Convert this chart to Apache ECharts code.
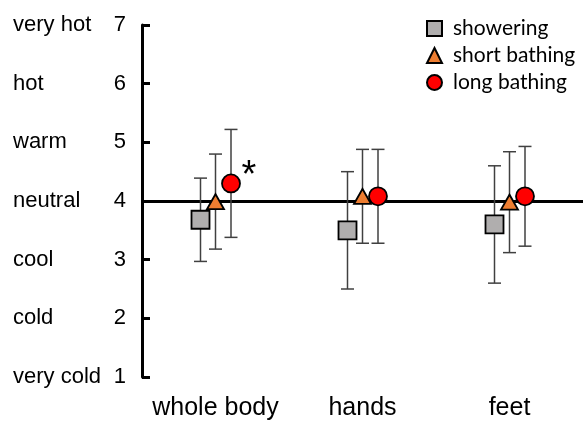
<!DOCTYPE html>
<html><head><meta charset="utf-8">
<script src="https://cdn.jsdelivr.net/npm/echarts@6/dist/echarts.min.js"></script>
<style>html,body{margin:0;padding:0;background:#fff}#c{width:583px;height:421px}</style>
</head><body><div id="c"></div>
<script>
var categories = ['whole body', 'hands', 'feet'];
var seriesNames = ['showering', 'short bathing', 'long bathing'];
var showerMean = [3.68, 3.50, 3.60];
var showerSD = [0.71, 1.00, 1.00];
var shortMean = [3.99, 4.08, 3.98];
var shortSD = [0.81, 0.80, 0.86];
var longMean = [4.30, 4.08, 4.08];
var longSD = [0.92, 0.80, 0.85];
var significance = ['*', '', ''];
var yTicks = [1, 2, 3, 4, 5, 6, 7];
var yWords = ['very cold', 'cold', 'cool', 'neutral', 'warm', 'hot', 'very hot'];
var referenceLevel = 4;

var chart = echarts.init(document.getElementById('c'));
var offsets = [-15, 0, 15.5];
var colors = ['#b0aeae', '#ed7d31', '#ff0000'];
var shapes = ['rect', 'triangle', 'circle'];
var sizes = [[18, 18], [17, 15], [18, 18]];
var means = [showerMean, shortMean, longMean];
var sds = [showerSD, shortSD, longSD];

function errSeries(k) {
  var data = categories.map(function (c, i) { return [i, means[k][i] - sds[k][i], means[k][i] + sds[k][i]]; });
  return {
    type: 'custom', name: seriesNames[k] + ' err', silent: true, z: 3,
    data: data,
    renderItem: function (params, api) {
      var lo = api.coord([api.value(0), api.value(1)]);
      var hi = api.coord([api.value(0), api.value(2)]);
      var x = lo[0] + offsets[k];
      var w = 6.5;
      var st = { stroke: '#404040', lineWidth: 1.5 };
      return { type: 'group', children: [
        { type: 'line', shape: { x1: x, y1: lo[1], x2: x, y2: hi[1] }, style: st },
        { type: 'line', shape: { x1: x - w, y1: lo[1], x2: x + w, y2: lo[1] }, style: st },
        { type: 'line', shape: { x1: x - w, y1: hi[1], x2: x + w, y2: hi[1] }, style: st }
      ] };
    }
  };
}

function pointSeries(k) {
  var s = {
    type: 'scatter', name: seriesNames[k], z: 5,
    symbol: shapes[k], symbolSize: sizes[k], symbolOffset: [offsets[k], 0],
    itemStyle: { color: colors[k], borderColor: '#000', borderWidth: 1.8, opacity: 1 },
    data: categories.map(function (c, i) {
      var d = { value: [i, means[k][i]] };
      if (k === 2 && significance[i]) {
        d.label = { show: true, formatter: significance[i], position: 'inside', offset: [18, -7],
          fontSize: 38, color: '#000', fontFamily: 'Liberation Sans' };
      }
      return d;
    })
  };
  if (k === 0) {
    s.markLine = { silent: true, symbol: 'none', z: 1, label: { show: false },
      lineStyle: { color: '#000', width: 3, type: 'solid' },
      data: [{ yAxis: referenceLevel }] };
  }
  return s;
}

var series = [errSeries(0), errSeries(1), errSeries(2), pointSeries(0), pointSeries(1), pointSeries(2)];

chart.setOption({
  animation: false,
  backgroundColor: '#fff',
  grid: { left: 142, right: -3, top: 25, bottom: 43, containLabel: false },
  legend: {
    orient: 'vertical', left: 421, top: 13, itemWidth: 15, itemHeight: 15, itemGap: 6,
    textStyle: { fontFamily: 'Lato', fontSize: 21, color: '#000', padding: [0, 0, 0, 6] },
    data: [
      { name: seriesNames[0], icon: 'rect' },
      { name: seriesNames[1], icon: 'triangle' },
      { name: seriesNames[2], icon: 'circle' }
    ],
    selectedMode: false
  },
  xAxis: {
    type: 'category', data: categories, boundaryGap: true,
    axisLine: { show: false }, axisTick: { show: false }, splitLine: { show: false },
    axisLabel: { interval: 0, fontSize: 25, color: '#000', fontFamily: 'Liberation Sans', margin: 19 }
  },
  yAxis: [
    {
      type: 'value', min: 1, max: 7, interval: 1,
      axisLine: { show: true, lineStyle: { color: '#000', width: 3 } },
      axisTick: { show: true, inside: true, length: 8, lineStyle: { color: '#000', width: 3 } },
      splitLine: { show: false },
      axisLabel: { fontSize: 22, color: '#000', fontFamily: 'Liberation Sans', margin: 16,
        formatter: function (v) { return yTicks.indexOf(v) >= 0 ? String(v) : ''; } }
    },
    {
      type: 'value', min: 1, max: 7, interval: 1, position: 'left',
      axisLine: { show: false }, axisTick: { show: false }, splitLine: { show: false },
      axisLabel: { fontSize: 22, color: '#000', fontFamily: 'Liberation Sans', margin: 129, align: 'left',
        formatter: function (v) { var i = yTicks.indexOf(v); return i >= 0 ? yWords[i] : ''; } }
    }
  ],
  series: series
});
</script></body></html>
